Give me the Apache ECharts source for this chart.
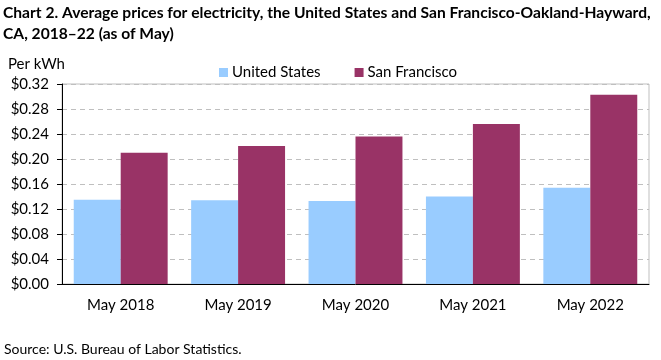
<!DOCTYPE html>
<html><head><meta charset="utf-8">
<script src="https://cdn.jsdelivr.net/npm/echarts@6/dist/echarts.min.js"></script>
<style>html,body{margin:0;padding:0;background:#fff}#c{width:661px;height:360px}</style>
</head><body><div id="c"></div>
<script>
const categories = ['May 2018','May 2019','May 2020','May 2021','May 2022'];
const usValues = [0.135, 0.134, 0.133, 0.140, 0.154];
const sfValues = [0.210, 0.221, 0.236, 0.256, 0.303];
const seriesNames = ['United States','San Francisco'];
const titleLines = ['Chart 2. Average prices for electricity, the United States and San Francisco-Oakland-Hayward,','CA, 2018–22 (as of May)'];
const yAxisTitle = 'Per kWh';
const sourceText = 'Source: U.S. Bureau of Labor Statistics.';
const FONT = 'Lato';
const chart = echarts.init(document.getElementById('c'));
chart.setOption({
  animation:false,
  textStyle:{fontFamily:FONT},
  title:[
    {text:titleLines.join('\n'),left:3,top:2,padding:0,textStyle:{fontFamily:FONT,fontSize:15.6,fontWeight:'bold',color:'#000',lineHeight:21}},
    {text:yAxisTitle,left:8,top:57,padding:0,textStyle:{fontFamily:FONT,fontSize:15,fontWeight:'normal',color:'#000'}},
    {text:sourceText,left:4,top:342,padding:0,textStyle:{fontFamily:FONT,fontSize:14,fontWeight:'normal',color:'#000'}}
  ],
  legend:{top:60,left:214,itemWidth:9,itemHeight:9,itemGap:34,icon:'rect',
    textStyle:{fontFamily:FONT,fontSize:15,color:'#000',padding:[0,0,0,-1]},data:seriesNames},
  grid:{left:62,right:12,top:84,bottom:76,show:true,borderColor:'#bfbfbf',borderWidth:1,backgroundColor:'#fff'},
  xAxis:{type:'category',data:categories,
    axisLine:{lineStyle:{color:'#000',width:1}},axisTick:{show:false},
    axisLabel:{fontFamily:FONT,fontSize:15,color:'#000',margin:14}},
  yAxis:{type:'value',min:0,max:0.32,interval:0.04,
    axisLine:{show:true,lineStyle:{color:'#000',width:1}},
    axisTick:{show:true,length:5,lineStyle:{color:'#000'}},
    axisLabel:{fontFamily:FONT,fontSize:15,color:'#000',margin:13,formatter:v=>'$'+v.toFixed(2)},
    splitLine:{show:true,lineStyle:{color:'#bfbfbf',type:[5,4],width:1}}},
  series:[
    {name:seriesNames[0],type:'bar',data:usValues,itemStyle:{color:'#99ccff'},barGap:'0%',barCategoryGap:'20%'},
    {name:seriesNames[1],type:'bar',data:sfValues,itemStyle:{color:'#993366'},barGap:'0%',barCategoryGap:'20%'}
  ]
});
</script></body></html>
